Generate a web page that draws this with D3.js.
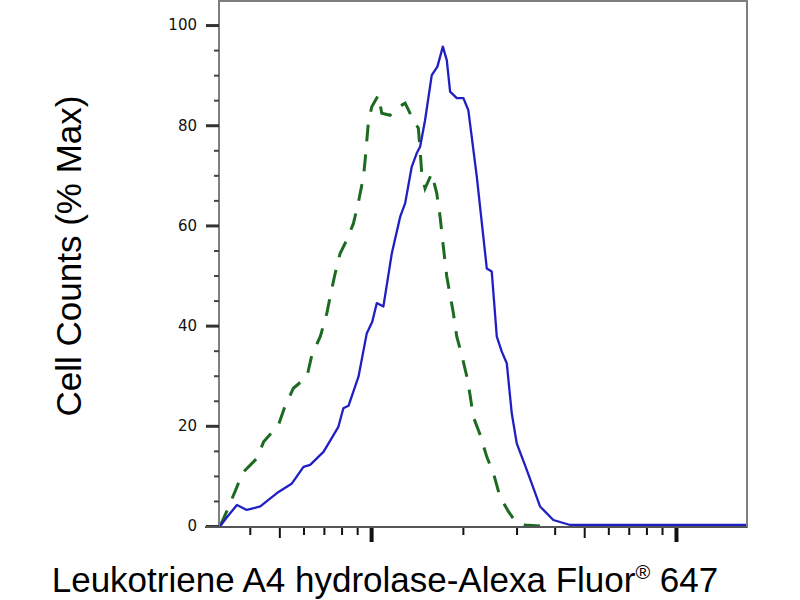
<!DOCTYPE html>
<html>
<head>
<meta charset="utf-8">
<script src="https://cdn.jsdelivr.net/npm/d3@7"></script>
<style>
  body { margin: 0; background: #fff; }
  svg { display: block; }
</style>
</head>
<body>
<svg id="chart" width="800" height="600"></svg>
<script>
// fluorescence intensity (arbitrary units) and % of max
let stainedX = [320, 335, 363, 391, 433, 497, 550, 600, 631, 698, 781, 811, 843, 909, 968, 1008, 1044, 1097,
  1169, 1245, 1293, 1359, 1411, 1448, 1503, 1581, 1650, 1719, 1771, 1816, 1910, 2008, 2084, 2222, 2396, 2487,
  2584, 2683, 2786, 2893, 3004, 3240, 3582, 3960, 4495, 6075, 10306, 17100];
let stainedY = [0, 1.6, 4.2, 3.2, 3.9, 6.8, 8.5, 11.8, 12.2, 14.8, 19.8, 23.5, 24.0, 29.8, 38.5, 40.7, 44.5, 43.8,
  54.4, 61.7, 64.4, 71.7, 74.4, 75.7, 81.0, 90.0, 91.7, 95.7, 93.0, 86.7, 85.4, 85.4, 83.0, 69.7, 51.4, 50.8,
  37.8, 34.8, 32.5, 22.5, 16.5, 11.2, 3.9, 1.2, 0.2, 0.2, 0.2, 0.2];

let controlX = [320, 336, 363, 377, 422, 444, 497, 519, 556, 616, 639, 681, 716, 734, 762, 791, 832, 875, 909,
  944, 956, 980, 1005, 1056, 1084, 1154, 1214, 1293, 1376, 1429, 1448, 1466, 1503, 1581, 1642, 1684, 1726,
  1771, 1861, 1910, 1984, 2061, 2112, 2164, 2278, 2396, 2520, 2648, 2820, 2966, 3192, 3582];
let controlY = [0, 2.9, 7.8, 10.5, 13.5, 16.8, 20.2, 23.5, 27.5, 29.8, 34.1, 37.8, 42.5, 45.8, 50.4, 54.4, 57.1,
  60.4, 64.7, 69.7, 73.1, 80.7, 83.7, 86.0, 82.4, 82.0, 83.4, 84.4, 81.0, 79.4, 75.0, 70.4, 67.4, 70.4, 66.4,
  61.7, 55.7, 49.8, 42.5, 37.8, 34.1, 29.8, 26.1, 21.8, 18.2, 13.8, 10.5, 5.8, 2.9, 1.0, 0.2, 0];

let yMajorTicks = [0, 20, 40, 60, 80, 100];
let yMinorTicks = [5, 10, 15, 25, 30, 35, 45, 50, 55, 65, 70, 75, 85, 90, 95];
let xMajorTicks = [1000, 10000];
let xFiveTicks = [500, 5000];
let xMinorTicks = [400, 600, 700, 800, 900, 2000, 3000, 4000, 6000, 7000, 8000, 9000];

let svg = d3.select("#chart");
let plotLeft = 219, plotRight = 747, plotTop = 1, plotBottom = 527;

let xScale = d3.scaleLog()
               .domain([317, 17100])
               .range([plotLeft, plotRight])
let yScale = d3.scaleLinear()
               .domain([0, 104.8])
               .range([526, plotTop])

//clip curves to the plot box
svg.append("clipPath")
   .attr("id", "plotArea")
   .append("rect")
   .attr("x", plotLeft)
   .attr("y", plotTop)
   .attr("width", plotRight - plotLeft)
   .attr("height", plotBottom - plotTop)

let line = d3.line()
             .x((d) => xScale(d[0]))
             .y((d) => yScale(d[1]))

//isotype control, dashed green
svg.append("path")
   .datum(d3.zip(controlX, controlY))
   .attr("clip-path", "url(#plotArea)")
   .attr("fill", "none")
   .attr("stroke", "#1d6b21")
   .attr("stroke-width", 3)
   .attr("stroke-dasharray", "17,13")
   .attr("d", line)

//stained sample, solid blue
svg.append("path")
   .datum(d3.zip(stainedX, stainedY))
   .attr("clip-path", "url(#plotArea)")
   .attr("fill", "none")
   .attr("stroke", "#1f1fc4")
   .attr("stroke-width", 2.3)
   .attr("stroke-linejoin", "round")
   .attr("d", line)

//frame
svg.append("rect")
   .attr("x", plotLeft)
   .attr("y", plotTop)
   .attr("width", plotRight - plotLeft)
   .attr("height", plotBottom - plotTop)
   .attr("fill", "none")
   .attr("stroke", "#7f7f7f")
   .attr("stroke-width", 2)

//y axis: minor ticks, then major ticks with labels
let yMinor = svg.append("g")
   .attr("transform", `translate(${plotLeft},0)`)
   .call(d3.axisLeft(yScale).tickValues(yMinorTicks).tickSize(5).tickFormat(""))
yMinor.select(".domain").remove()
yMinor.selectAll("line").attr("stroke", "#444").attr("stroke-width", 2)

let yMajor = svg.append("g")
   .attr("transform", `translate(${plotLeft},0)`)
   .call(d3.axisLeft(yScale).tickValues(yMajorTicks).tickSize(13).tickPadding(9))
yMajor.select(".domain").remove()
yMajor.selectAll("line").attr("stroke", "#333").attr("stroke-width", 3)
yMajor.selectAll("text")
      .attr("font-family", "DejaVu Sans")
      .attr("font-size", 15)
      .attr("fill", "#111")

//x axis: ticks only, no labels
let xTickGroups = [[xMinorTicks, 8, 2], [xFiveTicks, 11, 2], [xMajorTicks, 15, 4]];
xTickGroups.forEach(([values, size, width]) => {
  let g = svg.append("g")
     .attr("transform", `translate(0,${plotBottom})`)
     .call(d3.axisBottom(xScale).tickValues(values).tickSize(size).tickFormat(""))
  g.select(".domain").remove()
  g.selectAll("line").attr("stroke", "#111").attr("stroke-width", width)
})

//bottom baseline reaching out past the y axis
svg.append("line")
   .attr("x1", 205)
   .attr("x2", plotRight)
   .attr("y1", plotBottom)
   .attr("y2", plotBottom)
   .attr("stroke", "#555")
   .attr("stroke-width", 2)

//axis titles
svg.append("text")
   .attr("transform", "translate(81,256) rotate(-90)")
   .attr("text-anchor", "middle")
   .attr("font-family", "Liberation Sans, Arial, sans-serif")
   .attr("font-size", 35)
   .attr("fill", "#000")
   .text("Cell Counts (% Max)")

let xTitle = svg.append("text")
   .attr("x", 385)
   .attr("y", 592)
   .attr("text-anchor", "middle")
   .attr("font-family", "Liberation Sans, Arial, sans-serif")
   .attr("font-size", 35)
   .attr("fill", "#000")
xTitle.append("tspan").text("Leukotriene A4 hydrolase-Alexa Fluor")
xTitle.append("tspan").attr("font-size", 20).attr("dy", -13).text("®")
xTitle.append("tspan").attr("dy", 13).text(" 647")
</script>
</body>
</html>
